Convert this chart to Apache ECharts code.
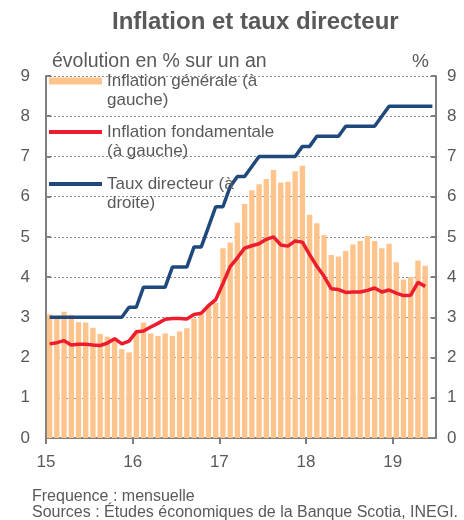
<!DOCTYPE html>
<html>
<head>
<meta charset="utf-8">
<script src="https://cdn.jsdelivr.net/npm/echarts@6/dist/echarts.min.js"></script>
<style>
  html, body { margin: 0; padding: 0; background: #fff; }
  #chart { width: 464px; height: 520px; }
</style>
</head>
<body>
<div id="chart"></div>
<script>
// monthly, Jan 2015 .. May 2019
const inflationGenerale = [
  3.07, 3.00, 3.14, 3.06, 2.88, 2.87, 2.74, 2.59, 2.52, 2.48, 2.21, 2.13,
  2.61, 2.87, 2.60, 2.54, 2.60, 2.54, 2.65, 2.73, 2.97, 3.06, 3.31, 3.36,
  4.72, 4.86, 5.35, 5.82, 6.16, 6.31, 6.44, 6.66, 6.35, 6.37, 6.63, 6.77,
  5.55, 5.34, 5.04, 4.55, 4.51, 4.65, 4.81, 4.90, 5.02, 4.90, 4.72, 4.83,
  4.37, 3.94, 4.00, 4.41, 4.28
];
const inflationFondamentale = [
  2.34, 2.37, 2.42, 2.31, 2.33, 2.33, 2.31, 2.30, 2.36, 2.47, 2.34, 2.41,
  2.64, 2.66, 2.76, 2.85, 2.95, 2.97, 2.97, 2.96, 3.07, 3.10, 3.29, 3.44,
  3.84, 4.26, 4.48, 4.72, 4.78, 4.83, 4.94, 5.00, 4.80, 4.77, 4.90, 4.87,
  4.56, 4.27, 4.02, 3.71, 3.69, 3.62, 3.63, 3.63, 3.67, 3.73, 3.63, 3.68,
  3.60, 3.54, 3.55, 3.87, 3.77
];
// Jan 2015 .. Jun 2019
const tauxDirecteur = [
  3.00, 3.00, 3.00, 3.00, 3.00, 3.00, 3.00, 3.00, 3.00, 3.00, 3.00, 3.25,
  3.25, 3.75, 3.75, 3.75, 3.75, 4.25, 4.25, 4.25, 4.75, 4.75, 5.25, 5.75,
  5.75, 6.25, 6.50, 6.50, 6.75, 7.00, 7.00, 7.00, 7.00, 7.00, 7.00, 7.25,
  7.25, 7.50, 7.50, 7.50, 7.50, 7.75, 7.75, 7.75, 7.75, 7.75, 8.00, 8.25,
  8.25, 8.25, 8.25, 8.25, 8.25, 8.25
];
const yearLabels = ['15', '16', '17', '18', '19'];
const yTicks = [0, 1, 2, 3, 4, 5, 6, 7, 8, 9];

const names = [
  'Inflation générale (à\ngauche)',
  'Inflation fondamentale\n(à gauche)',
  'Taux directeur (à\ndroite)'
];
const colors = ['#FFC48C', '#ED1C2E', '#1F497D'];
const grey = '#595959';
const axisGrey = '#7F7F7F';
const font = 'Liberation Sans';

// put points at the middle of each month on a 0..54 month axis
const toXY = arr => arr.map((v, i) => [i + 0.5, v]);

// empty first line so the icon sits beside the first text line
const makeLegend = (i, top, h) => ({
  data: [{ name: names[i], icon: 'rect' }],
  left: 49, top: top, padding: 0,
  itemWidth: 53, itemHeight: h,
  selectedMode: false,
  formatter: name => '\n' + name,
  textStyle: { color: grey, fontSize: 17, lineHeight: 19, fontFamily: font }
});

const yAxisBase = {
  type: 'value', min: yTicks[0], max: yTicks[yTicks.length - 1], interval: 1,
  axisLine: { show: true, lineStyle: { color: axisGrey, width: 2 } },
  axisTick: { show: true, inside: true, length: 5, lineStyle: { color: axisGrey, width: 2 } },
  axisLabel: { color: grey, fontSize: 17, fontFamily: font }
};

const chart = echarts.init(document.getElementById('chart'));
chart.setOption({
  animation: false,
  textStyle: { fontFamily: font },
  title: [
    { text: 'Inflation et taux directeur', left: 112, top: 10, padding: 0,
      textStyle: { color: grey, fontSize: 24, fontWeight: 'bold', fontFamily: font } },
    { text: 'évolution en % sur un an', left: 52, top: 52, padding: 0,
      textStyle: { color: grey, fontSize: 19.5, fontWeight: 'normal', fontFamily: font } },
    { text: '%', left: 412, top: 52, padding: 0,
      textStyle: { color: grey, fontSize: 19, fontWeight: 'normal', fontFamily: font } },
    { text: 'Frequence : mensuelle\nSources : Études économiques de la Banque Scotia, INEGI.',
      left: 32, top: 489, padding: 0,
      textStyle: { color: grey, fontSize: 16, lineHeight: 16, fontWeight: 'normal', fontFamily: font } }
  ],
  legend: [
    makeLegend(0, 52.5, 7),
    makeLegend(1, 103.5, 4),
    makeLegend(2, 155.5, 4)
  ],
  grid: { left: 46, right: 28, top: 76, bottom: 82, containLabel: false },
  xAxis: {
    type: 'value', min: 0, max: 54, interval: 12,
    axisLine: { show: true, onZero: false, lineStyle: { color: axisGrey, width: 2 } },
    axisTick: { show: true, length: 6, lineStyle: { color: axisGrey, width: 2 } },
    axisLabel: {
      color: grey, fontSize: 17, margin: 16, showMaxLabel: false, fontFamily: font,
      formatter: v => yearLabels[v / 12] || ''
    },
    splitLine: { show: false }
  },
  yAxis: [
    Object.assign({}, yAxisBase, {
      position: 'left',
      axisLabel: Object.assign({}, yAxisBase.axisLabel, { margin: 16 }),
      splitLine: { show: true, lineStyle: { color: '#8C8C8C', type: [2, 2], width: 1 } }
    }),
    Object.assign({}, yAxisBase, {
      position: 'right',
      axisLabel: Object.assign({}, yAxisBase.axisLabel, { margin: 11 }),
      splitLine: { show: false }
    })
  ],
  series: [
    {
      name: names[0], type: 'bar', yAxisIndex: 0,
      data: toXY(inflationGenerale), barWidth: 5.4,
      itemStyle: { color: colors[0] }
    },
    {
      name: names[1], type: 'line', yAxisIndex: 0,
      data: toXY(inflationFondamentale), symbol: 'none',
      lineStyle: { color: colors[1], width: 3.5 }, itemStyle: { color: colors[1] }
    },
    {
      name: names[2], type: 'line', yAxisIndex: 1,
      data: toXY(tauxDirecteur), symbol: 'none',
      lineStyle: { color: colors[2], width: 3.5 }, itemStyle: { color: colors[2] }
    }
  ]
});
</script>
</body>
</html>
